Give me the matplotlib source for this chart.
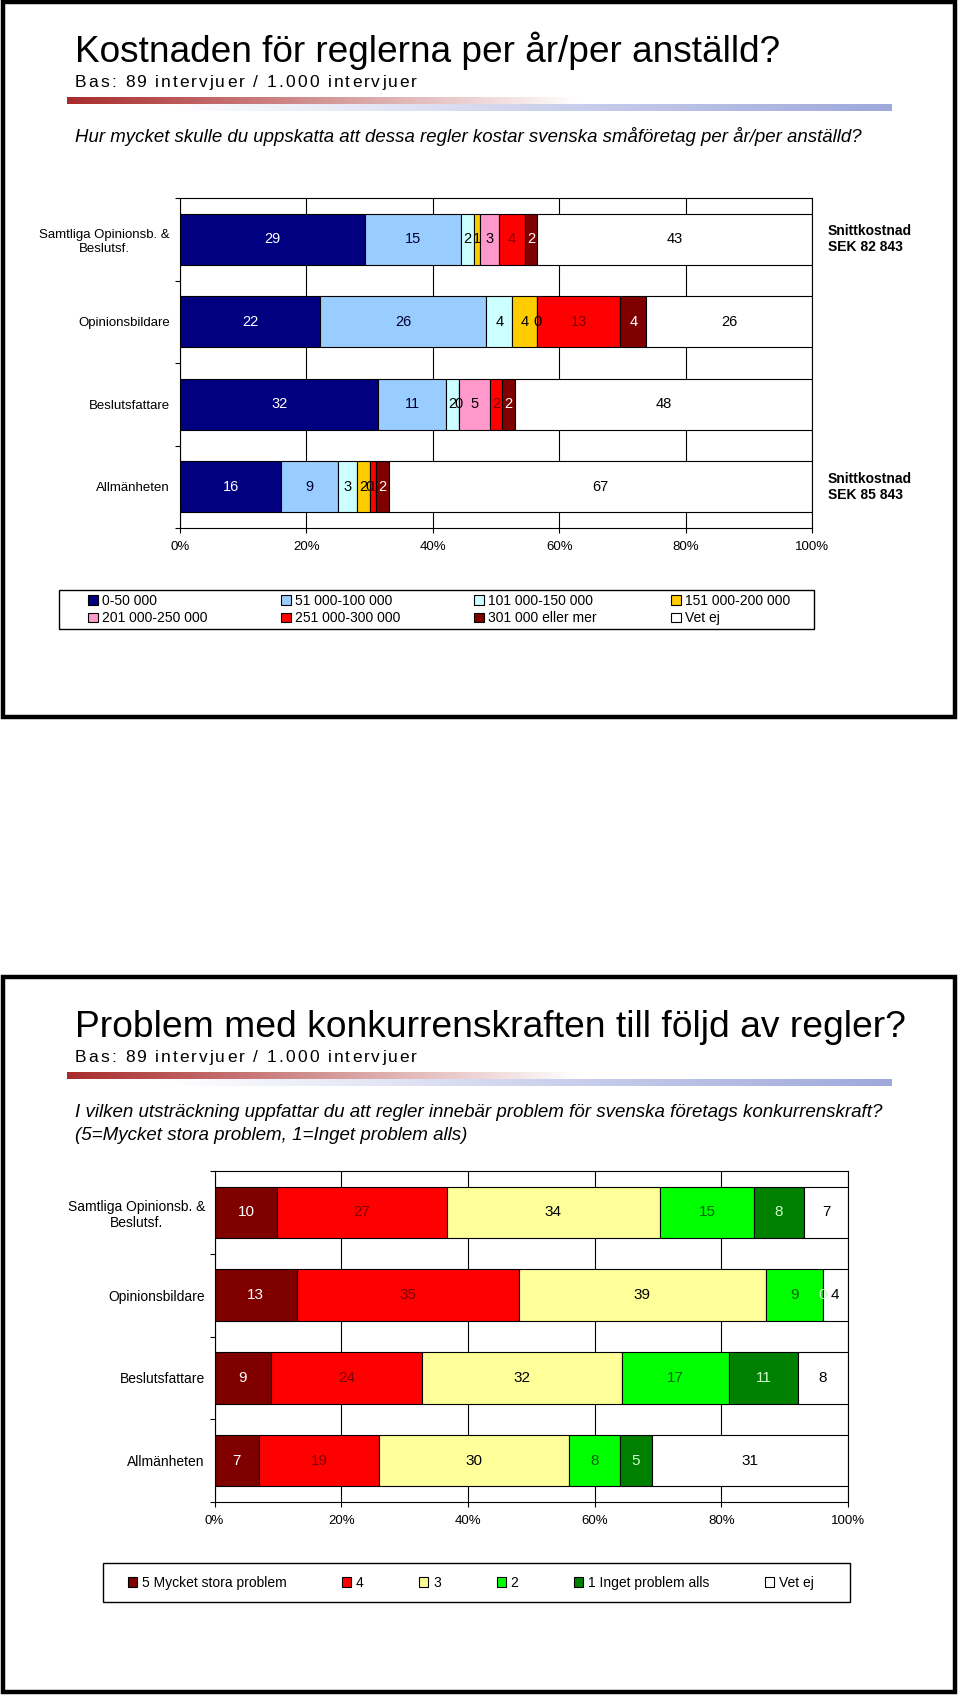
import matplotlib
matplotlib.use('Agg')
import matplotlib.pyplot as plt
import numpy as np
from matplotlib import font_manager
from matplotlib.patches import Rectangle, Patch
from matplotlib.font_manager import FontProperties

W, H = 960, 1695

# chart 1: cost per year / employee
cost_rows = ['Samtliga Opinionsb. &\nBeslutsf.', 'Opinionsbildare', 'Beslutsfattare', 'Allmänheten']
cost_classes = ['0-50 000', '51 000-100 000', '101 000-150 000', '151 000-200 000',
                '201 000-250 000', '251 000-300 000', '301 000 eller mer', 'Vet ej']
cost_samtliga = [29, 15, 2, 1, 3, 4, 2, 43]
cost_opinion = [22, 26, 4, 4, 0, 13, 4, 26]
cost_beslut = [32, 11, 2, 0, 5, 2, 2, 48]
cost_allman = [16, 9, 3, 2, 0, 1, 2, 67]
cost_notes = {0: 'Snittkostnad\nSEK 82 843', 3: 'Snittkostnad\nSEK 85 843'}
cost_colors = ['#000080', '#99CCFF', '#CCFFFF', '#FFCC00', '#FF99CC', '#FF0000', '#800000', '#FFFFFF']
cost_label_colors = ['white', '#000033', 'black', 'black', 'black', '#800000', 'white', 'black']

# chart 2: competitiveness problems
comp_rows = ['Samtliga Opinionsb. &\nBeslutsf.', 'Opinionsbildare', 'Beslutsfattare', 'Allmänheten']
comp_classes = ['5 Mycket stora problem', '4', '3', '2', '1 Inget problem alls', 'Vet ej']
comp_samtliga = [10, 27, 34, 15, 8, 7]
comp_opinion = [13, 35, 39, 9, 0, 4]
comp_beslut = [9, 24, 32, 17, 11, 8]
comp_allman = [7, 19, 30, 8, 5, 31]
comp_colors = ['#800000', '#FF0000', '#FFFF99', '#00FF00', '#008000', '#FFFFFF']
comp_label_colors = ['white', '#800000', 'black', '#006600', '#CCFFCC', 'black']

bas_text = 'Bas: 89 intervjuer / 1.000 intervjuer'

plt.rcParams['font.family'] = 'Liberation Sans'
names = {f.name for f in font_manager.fontManager.ttflist}
head_family = 'Liberation Sans Narrow' if 'Liberation Sans Narrow' in names else 'Liberation Sans'


def fx(px):
    return px / W


def fy(py):
    return 1 - py / H


def fit_text(fig, x, y, s, width, size=20, **kw):
    t = fig.text(fx(x), fy(y), s, family=head_family, fontsize=size, va='baseline', **kw)
    w = t.get_window_extent(fig.canvas.get_renderer()).width
    t.set_fontsize(size * width / w)
    return t


def tracked_text(fig, x, y, s, size, width):
    """letter-spaced text, one glyph at a time"""
    prop = FontProperties(family='Liberation Sans', size=size)
    r = fig.canvas.get_renderer()
    base = r.get_text_width_height_descent('ll', prop, ismath=False)[0]
    adv = [r.get_text_width_height_descent('l' + c + 'l', prop, ismath=False)[0] - base for c in s]
    gap = (width - sum(adv)) / (len(s) - 1)
    for c, a in zip(s, adv):
        fig.text(fx(x), fy(y), c, fontproperties=prop, va='baseline')
        x += a + gap


def gradient_bar(fig, top):
    ax = fig.add_axes([fx(67), fy(top + 14), fx(892) - fx(67), 14 / H])
    t = np.linspace(0, 1, 900)
    red = np.array([0.66, 0.17, 0.17])
    blue = np.array([0.62, 0.66, 0.86])
    a = np.clip(1 - t / 0.62, 0, 1)[:, None]
    b = np.clip((t - 0.12) / 0.88, 0, 1)[:, None]
    upper = 1 - a * (1 - red)
    lower = 1 - b * (1 - blue)
    ax.imshow(np.stack([upper, lower]), aspect='auto', interpolation='nearest')
    ax.axis('off')


def header(fig, top, title, title_width, question, q_width):
    fig.add_artist(Rectangle((fx(3), fy(top + 715)), fx(955) - fx(3), 715 / H,
                             transform=fig.transFigure, fill=False, edgecolor='black', linewidth=3.2))
    fit_text(fig, 75, top + 60, title, title_width)
    tracked_text(fig, 75, top + 85, bas_text, 12.5, 342)
    gradient_bar(fig, top + 95)
    t = fit_text(fig, 75, top + 140, question[0], q_width, style='italic')
    for k, line in enumerate(question[1:]):
        fig.text(fx(75), fy(top + 163 + 23 * k), line, family=head_family, style='italic',
                 fontsize=t.get_fontsize(), va='baseline')


def stacked_chart(fig, box, rows, data, colors, label_colors, fontsize, valsize, label_pad):
    left, top, right, bottom = box
    ax = fig.add_axes([fx(left), fy(bottom), fx(right) - fx(left), (bottom - top) / H])
    vals = np.array(data, dtype=float)
    share = vals / vals.sum(axis=1, keepdims=True) * 100
    starts = np.cumsum(share, axis=1) - share
    y = np.arange(len(rows))
    for j in range(vals.shape[1]):
        ax.barh(y, share[:, j], left=starts[:, j], height=0.62, color=colors[j],
                edgecolor='black', linewidth=0.8, zorder=2)
        for i in range(len(rows)):
            ax.text(starts[i, j] + share[i, j] / 2, y[i], f'{vals[i, j]:.0f}', ha='center', va='center',
                    color=label_colors[j], fontsize=valsize, zorder=3)
    ax.set_xlim(0, 100)
    ax.set_ylim(len(rows) - 0.5, -0.5)
    ax.set_xticks(range(0, 101, 20))
    ax.set_xticklabels([f'{v}%' for v in range(0, 101, 20)])
    ax.set_yticks(y)
    ax.set_yticklabels(rows, multialignment='center')
    ax.set_yticks(np.arange(-0.5, len(rows)), minor=True)
    ax.tick_params(axis='y', which='major', length=0, pad=label_pad, labelsize=fontsize)
    ax.tick_params(axis='y', which='minor', length=3.6, width=0.8, direction='out')
    ax.tick_params(axis='x', length=3.6, width=0.8, direction='out', pad=5.5, labelsize=9.5)
    ax.grid(axis='x', color='black', linewidth=0.8)
    ax.set_axisbelow(True)
    for s in ax.spines.values():
        s.set_linewidth(0.8)
    return ax


fig = plt.figure(figsize=(W / 100, H / 100), dpi=100)

# ---- panel 1 ----
header(fig, 2, 'Kostnaden för reglerna per år/per anställd?', 704,
       ['Hur mycket skulle du uppskatta att dessa regler kostar svenska småföretag per år/per anställd?'], 784)
ax1 = stacked_chart(fig, (180, 198, 812, 528), cost_rows,
                    [cost_samtliga, cost_opinion, cost_beslut, cost_allman],
                    cost_colors, cost_label_colors, 9.5, 10.5, 7.2)
for row, note in cost_notes.items():
    ax1.text(102.5, row, note, ha='left', va='center', fontsize=10, fontweight='bold',
             linespacing=1.15, clip_on=False)

handles1 = [Patch(facecolor=c, edgecolor='black', linewidth=0.8) for c in cost_colors]
order = [0, 4, 1, 5, 2, 6, 3, 7]
fig.legend([handles1[k] for k in order], [cost_classes[k] for k in order], ncol=4, loc='center',
           bbox_to_anchor=(fx(88), fy(629), fx(790) - fx(88), 39 / H), mode='expand', frameon=False,
           fontsize=10, handlelength=0.7, handleheight=0.7, handletextpad=0.3,
           borderpad=0, borderaxespad=0, labelspacing=0.25)
fig.add_artist(Rectangle((fx(59), fy(629)), fx(814) - fx(59), 39 / H, transform=fig.transFigure,
                         fill=False, edgecolor='black', linewidth=1))

# ---- panel 2 ----
header(fig, 977, 'Problem med konkurrenskraften till följd av regler?', 829,
       ['I vilken utsträckning uppfattar du att regler innebär problem för svenska företags konkurrenskraft?',
        '(5=Mycket stora problem, 1=Inget problem alls)'], 808)
stacked_chart(fig, (214.6, 1171, 848, 1502), comp_rows,
              [comp_samtliga, comp_opinion, comp_beslut, comp_allman],
              comp_colors, comp_label_colors, 10, 11, 7)

handles2 = [Patch(facecolor=c, edgecolor='black', linewidth=0.8) for c in comp_colors]
fig.legend(handles2, comp_classes, ncol=6, loc='center left', bbox_to_anchor=(fx(128), fy(1583)),
           frameon=False, fontsize=10, handlelength=0.65, handleheight=0.65, handletextpad=0.35,
           columnspacing=4.0, borderpad=0, borderaxespad=0)
fig.add_artist(Rectangle((fx(103), fy(1602)), fx(850) - fx(103), 39 / H, transform=fig.transFigure,
                         fill=False, edgecolor='black', linewidth=1))

fig.savefig('out.png', dpi=100)
